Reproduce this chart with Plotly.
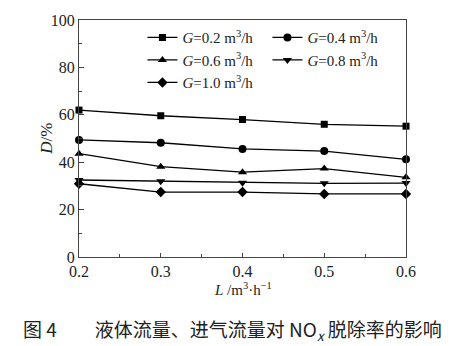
import plotly.graph_objects as go

L = [0.2, 0.3, 0.4, 0.5, 0.6]
G_labels = ["0.2", "0.4", "0.6", "0.8", "1.0"]
D_G02 = [62.0, 59.6, 58.0, 56.0, 55.2]
D_G04 = [49.4, 48.2, 45.6, 44.7, 41.2]
D_G06 = [43.6, 38.1, 35.8, 37.3, 33.6]
D_G08 = [32.5, 32.0, 31.3, 31.1, 31.2]
D_G10 = [30.9, 27.4, 27.4, 26.6, 26.6]
series = [D_G02, D_G04, D_G06, D_G08, D_G10]
symbols = ["square", "circle", "triangle-up", "triangle-down", "diamond"]
sizes = [7, 8, 8, 8, 8]

fig = go.Figure()
for lab, ys, sym, sz in zip(G_labels, series, symbols, sizes):
    fig.add_trace(go.Scatter(
        x=L, y=ys, mode="lines+markers",
        name=f"<i>G</i>={lab} m<sup>3</sup>/h",
        line=dict(color="black", width=1.3),
        marker=dict(symbol=sym, size=sz, color="black"),
        cliponaxis=False,
    ))

serif = "Liberation Serif, Times New Roman, serif"
fig.update_layout(
    width=456, height=346,
    margin=dict(l=79, r=50, t=15, b=89),
    paper_bgcolor="white", plot_bgcolor="white",
    font=dict(family=serif, size=16, color="#222"),
    showlegend=True,
    legend=dict(
        orientation="h", x=0.194, y=0.995, xanchor="left", yanchor="top",
        entrywidth=80, entrywidthmode="pixels",
        itemwidth=30, tracegroupgap=0, traceorder="normal",
        font=dict(family=serif, size=15, color="#222"),
        bgcolor="rgba(0,0,0,0)",
    ),
    xaxis=dict(
        range=[0.2, 0.6], tickvals=L, ticktext=["0.2", "0.3", "0.4", "0.5", "0.6"],
        ticks="inside", ticklen=4, tickcolor="#444",
        minor=dict(tickvals=[0.25, 0.35, 0.45, 0.55], ticks="inside", ticklen=3, tickcolor="#444"),
        showline=True, linecolor="#444", linewidth=1.2, mirror=True,
        showgrid=False, zeroline=False,
    ),
    yaxis=dict(
        range=[0, 100], tickvals=[0, 20, 40, 60, 80, 100],
        ticks="inside", ticklen=5, tickcolor="#444",
        minor=dict(tickvals=[10, 30, 50, 70, 90], ticks="inside", ticklen=3, tickcolor="#444"),
        showline=True, linecolor="#444", linewidth=1.2, mirror=True,
        showgrid=False, zeroline=False,
    ),
    annotations=[
        dict(text="<i>L</i> /m<sup>3</sup>·h<sup>−1</sup>", xref="paper", yref="paper",
             x=0.5, y=-0.135, xanchor="center", yanchor="middle", showarrow=False,
             font=dict(family=serif, size=15, color="#222")),
        dict(text="<i>D</i>/%", xref="paper", yref="paper", textangle=-90,
             x=-0.1, y=0.5, xanchor="center", yanchor="middle", showarrow=False,
             font=dict(family=serif, size=17, color="#222")),
        dict(text="图 4　　液体流量、进气流量对 NO<sub><i>x</i></sub> 脱除率的影响", xref="paper", yref="paper",
             x=0.47, y=-0.31, xanchor="center", yanchor="middle", showarrow=False,
             font=dict(family="Noto Sans CJK SC", size=19, color="#222")),
    ],
)
fig.write_html("out.html")
